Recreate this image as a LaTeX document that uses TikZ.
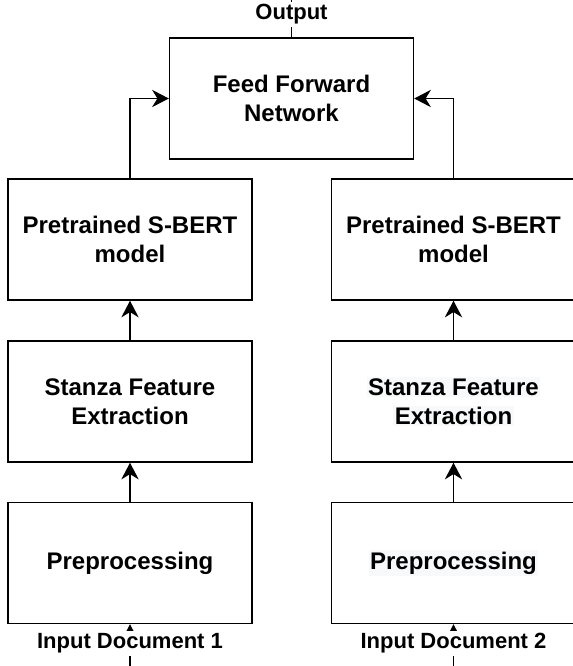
\documentclass[tikz,border=0pt]{standalone}
\usepackage{fontspec}
\setmainfont{Liberation Sans}
\usepackage{tikz}
\usetikzlibrary{shapes.geometric, arrows.meta}
\definecolor{hlgray}{HTML}{F8F9FA}
\newcommand{\hlbox}[1]{{\setlength{\fboxsep}{1pt}\colorbox{hlgray}{#1}}}

\begin{document}
\begin{tikzpicture}[x=0.75pt, y=-0.75pt, line width=1.1pt,
    >={Stealth[length=12.5pt, width=13pt, inset=4pt]}]
        % Define the styles for blocks and edge labels
        \tikzstyle{block}=[rectangle, draw, minimum width=183pt, minimum height=90.75pt, align=center, font=\fontsize{18}{22}\selectfont\bfseries]
        \tikzstyle{edgelabel}=[fill=white, inner sep=2pt, font=\fontsize{16.5}{20}\selectfont\bfseries]

        \useasboundingbox (0,0) rectangle (572,666);

        % Define the blocks
        \node[block] (ffn) at (291.5,98.5) {Feed Forward\\Network};
        \node[block] (sbert1) at (130,239.5) {Pretrained S-BERT\\model};
        \node[block] (stanza1) at (130,401.5) {Stanza Feature\\Extraction};
        \node[block] (prep1) at (130,563) {Preprocessing};
        \node[block] (sbert2) at (453.5,239.5) {Pretrained S-BERT\\model};
        \node[block] (stanza2) at (453.5,401.5) {\hlbox{Stanza Feature}\\\hlbox{Extraction}};
        \node[block] (prep2) at (453.5,563) {\hlbox{Preprocessing}};

        % Define the free ends
        \coordinate (out) at (291.5,-30);
        \coordinate (in1) at (130,700);
        \coordinate (in2) at (453.5,700);

        % Define the arrows of both branches
        \draw[->] (in1) -- node[edgelabel, pos=0.75] (in1label) {Input Document 1} (prep1.south);
        \draw[->] (prep1) -- (stanza1);
        \draw[->] (stanza1) -- (sbert1);
        \draw[->] (sbert1.north) |- (ffn.west);

        \draw[->] (in2) -- node[edgelabel, pos=0.75] (in2label) {Input Document 2} (prep2.south);
        \draw[->] (prep2) -- (stanza2);
        \draw[->] (stanza2) -- (sbert2);
        \draw[->] (sbert2.north) |- (ffn.east);

        % Define the output arrow
        \draw[->] (ffn.north) -- node[edgelabel, pos=0.34] (outlabel) {Output} (out);
    \end{tikzpicture}
\end{document}
